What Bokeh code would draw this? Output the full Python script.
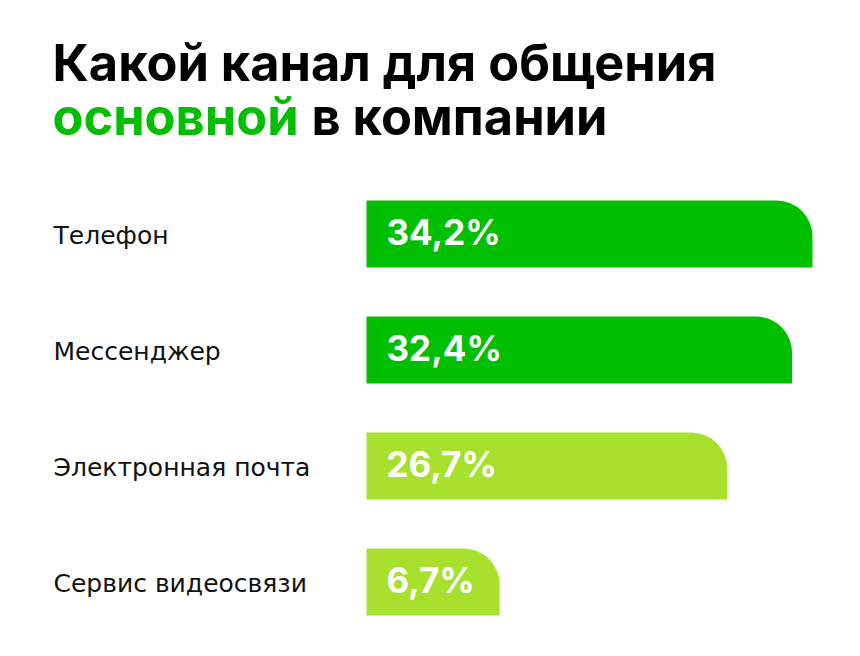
from bokeh.plotting import figure
from bokeh.models import Range1d, Label, ColumnDataSource
from bokeh.core.properties import value
from bokeh.embed import file_html
from bokeh.resources import INLINE

# ---- data ----
categories = ["Телефон", "Мессенджер", "Электронная почта", "Сервис видеосвязи"]
shares = [34.2, 32.4, 26.7, 6.7]
share_labels = ["34,2%", "32,4%", "26,7%", "6,7%"]
title_line1 = "Какой канал для общения"
title_word_green = "основной"
title_rest = "в компании"

# ---- styling ----
DARK_GREEN = "#00BE00"
LIGHT_GREEN = "#A8E02E"
FONT = "Inter"
LABEL_FONT = "DejaVu Sans"
bar_base = -5.0          # visual baseline offset so short bars hold their labels

colors = [DARK_GREEN, DARK_GREEN, LIGHT_GREEN, LIGHT_GREEN]
ypos = [-i for i in range(len(categories))]

W, H = 860, 656
# x mapping: bar base at 366px, largest bar end at 812px
px_per_unit = (812 - 366) / (max(shares) - bar_base)
x0 = bar_base - 366 / px_per_unit
x1 = x0 + W / px_per_unit
# y mapping: first bar centre at 233.5px from top, step 116px
y_step = 116.0
y_end = (233.5) / y_step
y_start = y_end - H / y_step

p = figure(width=W, height=H, x_range=Range1d(x0, x1), y_range=Range1d(y_start, y_end),
           output_backend="svg", toolbar_location=None, min_border=0,
           background_fill_color="white", border_fill_color="white")
p.axis.visible = False
p.grid.visible = False
p.outline_line_color = None

src = ColumnDataSource(dict(y=ypos, right=shares, left=[bar_base] * len(shares),
                            color=colors, cat=categories, lab=share_labels,
                            lx=[x0] * len(shares)))

p.hbar(y="y", left="left", right="right", height=67 / y_step, color="color",
       line_color=None, source=src, border_radius=(0, 36, 0, 0))

p.text(x="left", y="y", text="lab", source=src, x_offset=20, y_offset=-2,
       text_color="white", text_font=value(FONT), text_font_style="bold",
       text_font_size="35px", text_baseline="middle", text_align="left")

p.text(x="lx", y="y", text="cat", source=src, x_offset=53, y_offset=1,
       text_color="#111111", text_font=value(LABEL_FONT), text_font_style="normal",
       text_font_size="25px", text_baseline="middle", text_align="left")

# title
p.add_layout(Label(x=52, y=H - 62, x_units="screen", y_units="screen", text=title_line1,
                   text_font=FONT, text_font_style="bold", text_font_size="50.5px",
                   text_color="#000000", text_baseline="alphabetic"))
p.add_layout(Label(x=52, y=H - 116, x_units="screen", y_units="screen", text=title_word_green,
                   text_font=FONT, text_font_style="bold", text_font_size="50.5px",
                   text_color=DARK_GREEN, text_baseline="alphabetic"))
p.add_layout(Label(x=311, y=H - 116, x_units="screen", y_units="screen", text=title_rest,
                   text_font=FONT, text_font_style="bold", text_font_size="50.5px",
                   text_color="#000000", text_baseline="alphabetic"))

open("out.html", "w").write(file_html(p, INLINE))
